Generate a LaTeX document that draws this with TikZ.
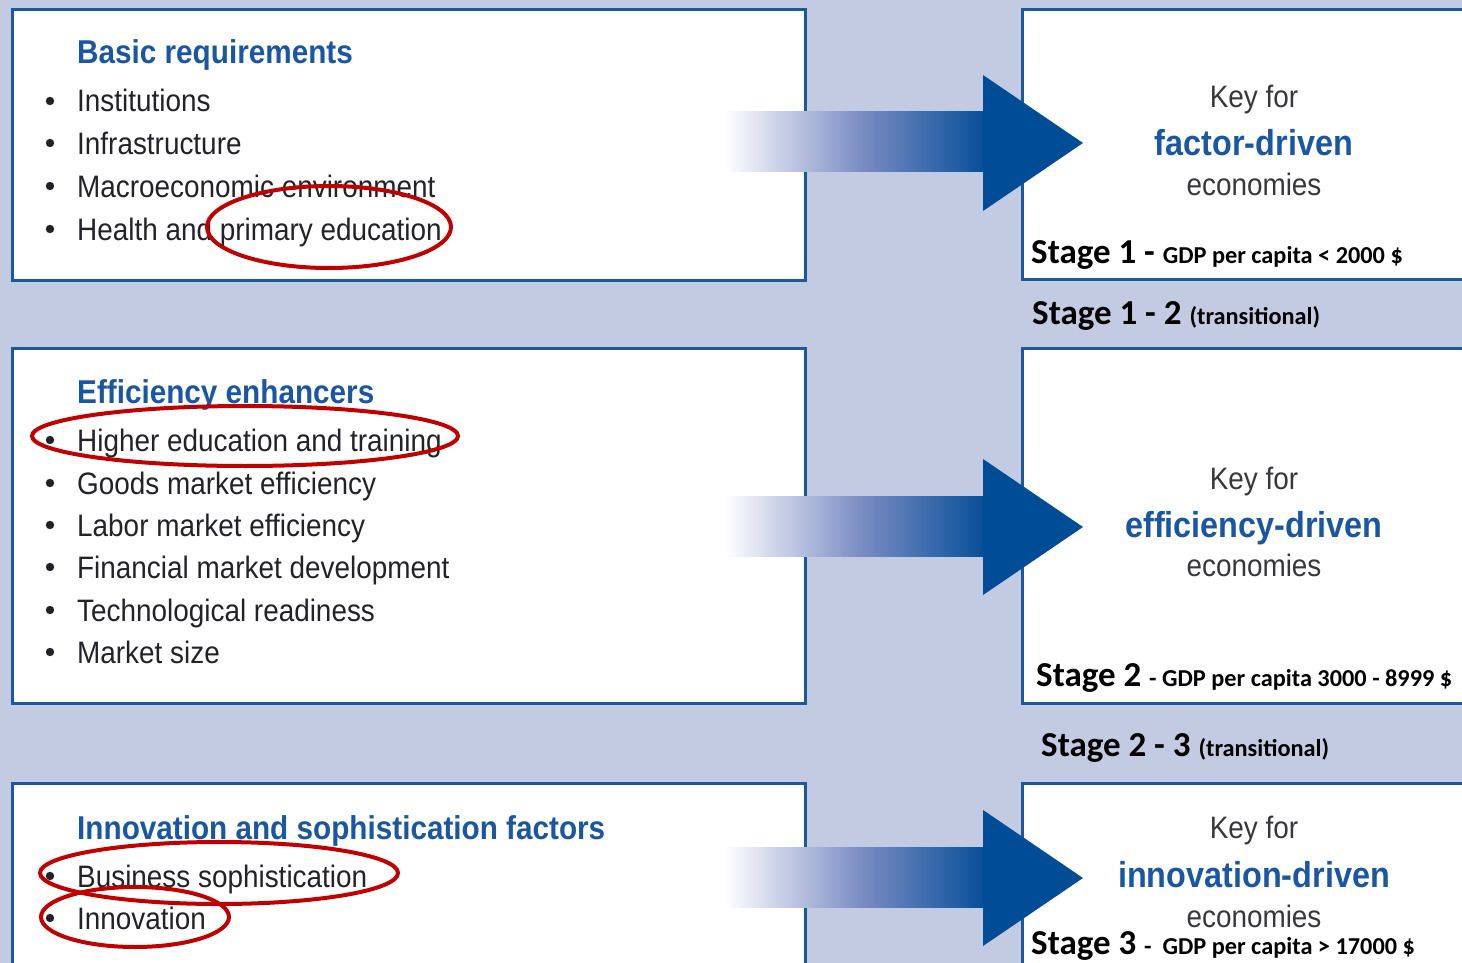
\documentclass[tikz,border=0pt]{standalone}
\usepackage{fontspec}
\setmainfont{Liberation Sans}
\newfontfamily\condfont[FakeStretch=0.9]{Liberation Sans}
\newfontfamily\calfont{Carlito}
\definecolor{bgcol}{RGB}{195,203,227}
\definecolor{framecol}{RGB}{28,88,160}
\definecolor{titleblue}{RGB}{26,86,162}
\definecolor{arrowblue}{RGB}{0,76,151}
\definecolor{shaftmid}{RGB}{125,142,196}
\definecolor{itemgray}{RGB}{34,34,40}
\definecolor{keygray}{RGB}{56,56,60}
\definecolor{markred}{RGB}{192,0,0}
\begin{document}
\begin{tikzpicture}[x=1pt,y=-1pt,
  panel/.style={draw=framecol, line width=3pt, fill=white, anchor=north west, inner sep=0pt},
  head/.style={anchor=base west, inner sep=0pt, text=titleblue,
    font=\condfont\bfseries\fontsize{33}{38}\selectfont},
  item/.style={anchor=base west, inner sep=0pt, text=itemgray,
    font=\condfont\fontsize{31}{36}\selectfont},
  keytxt/.style={anchor=base, inner sep=0pt, text=keygray,
    font=\condfont\fontsize{31}{36}\selectfont},
  drivetxt/.style={anchor=base, inner sep=0pt, text=titleblue,
    font=\condfont\bfseries\fontsize{36}{42}\selectfont},
  stagetxt/.style={anchor=base west, inner sep=0pt, text=black,
    font=\calfont\bfseries\fontsize{35}{40}\selectfont},
  bulletdot/.style={fill=itemgray},
  redring/.style={draw=markred, line width=4pt},
  shaft/.style={left color=white, right color=arrowblue, middle color=shaftmid},
  tip/.style={fill=arrowblue}]
\newcommand\smalltxt{\fontsize{24.3}{28}\selectfont}
\useasboundingbox (0,0) rectangle (1462,963);
\clip (0,0) rectangle (1462,963);
\fill[bgcol] (0,0) rectangle (1462,963);

% panels: pillars on the left, stages on the right
\node[panel, minimum width=793pt, minimum height=271pt] (p1) at (11,8) {};
\node[panel, minimum width=793pt, minimum height=355pt] (p2) at (11,347) {};
\node[panel, minimum width=793pt, minimum height=250pt] (p3) at (11,782) {};
\node[panel, minimum width=500pt, minimum height=270pt] (s1) at (1021,8) {};
\node[panel, minimum width=500pt, minimum height=355pt] (s2) at (1021,347) {};
\node[panel, minimum width=500pt, minimum height=250pt] (s3) at (1021,782) {};

% pillar 1
\node[head] (h1) at (77,64) {Basic requirements};
\foreach \t/\y [count=\i] in {Institutions/112, Infrastructure/154,
    Macroeconomic environment/197, Health and primary education/240} {
  \node[item] (a\i) at (77,\y) {\t};
  \fill[bulletdot] (50,\y-11) circle (4.2pt);
}
% pillar 2
\node[head] (h2) at (77,403) {Efficiency enhancers};
\foreach \t/\y [count=\i] in {Higher education and training/451,
    Goods market efficiency/494, Labor market efficiency/536,
    Financial market development/578, Technological readiness/621,
    Market size/663} {
  \node[item] (b\i) at (77,\y) {\t};
  \fill[bulletdot] (50,\y-11) circle (4.2pt);
}
% pillar 3
\node[head] (h3) at (77,839) {Innovation and sophistication factors};
\foreach \t/\y [count=\i] in {Business sophistication/887, Innovation/929} {
  \node[item] (c\i) at (77,\y) {\t};
  \fill[bulletdot] (50,\y-11) circle (4.2pt);
}

% stage panels
\node[keytxt] (k1) at (1254,108) {Key for};
\node[drivetxt] (d1) at (1254,156) {factor-driven};
\node[keytxt] (e1) at (1254,195) {economies};
\node[stagetxt] (st1) at (1031,263) {Stage 1 - {\smalltxt GDP per capita < 2000 \$}};
\node[stagetxt] (t12) at (1032,324) {Stage 1 - 2 {\smalltxt (transitional)}};

\node[keytxt] (k2) at (1254,489) {Key for};
\node[drivetxt] (d2) at (1254,537) {efficiency-driven};
\node[keytxt] (e2) at (1254,576) {economies};
\node[stagetxt] (st2) at (1036,686) {Stage 2 {\smalltxt - GDP per capita 3000 - 8999 \$}};
\node[stagetxt] (t23) at (1041,756) {Stage 2 - 3 {\smalltxt(transitional)}};

\node[keytxt] (k3) at (1254,838) {Key for};
\node[drivetxt] (d3) at (1254,887) {innovation-driven};
\node[keytxt] (e3) at (1254,927) {economies};
\node[stagetxt] (st3) at (1031,954) {Stage 3 {\smalltxt -~~GDP per capita > 17000 \$}};

% arrows from each pillar to its stage
\foreach \yc in {143,527,878} {
  \shade[shaft] (725,\yc-31) rectangle (992,\yc+29);
  \fill[tip] (983,\yc-68) -- (1083,\yc) -- (983,\yc+68) -- cycle;
}

% hand-drawn highlights
\draw[redring] (329,227) ellipse [x radius=122pt, y radius=41pt];
\draw[redring] (245,436) ellipse [x radius=213pt, y radius=30pt];
\draw[redring] (219,873) ellipse [x radius=179pt, y radius=31pt];
\draw[redring] (135,917) ellipse [x radius=94pt, y radius=30pt];
\end{tikzpicture}
\end{document}
